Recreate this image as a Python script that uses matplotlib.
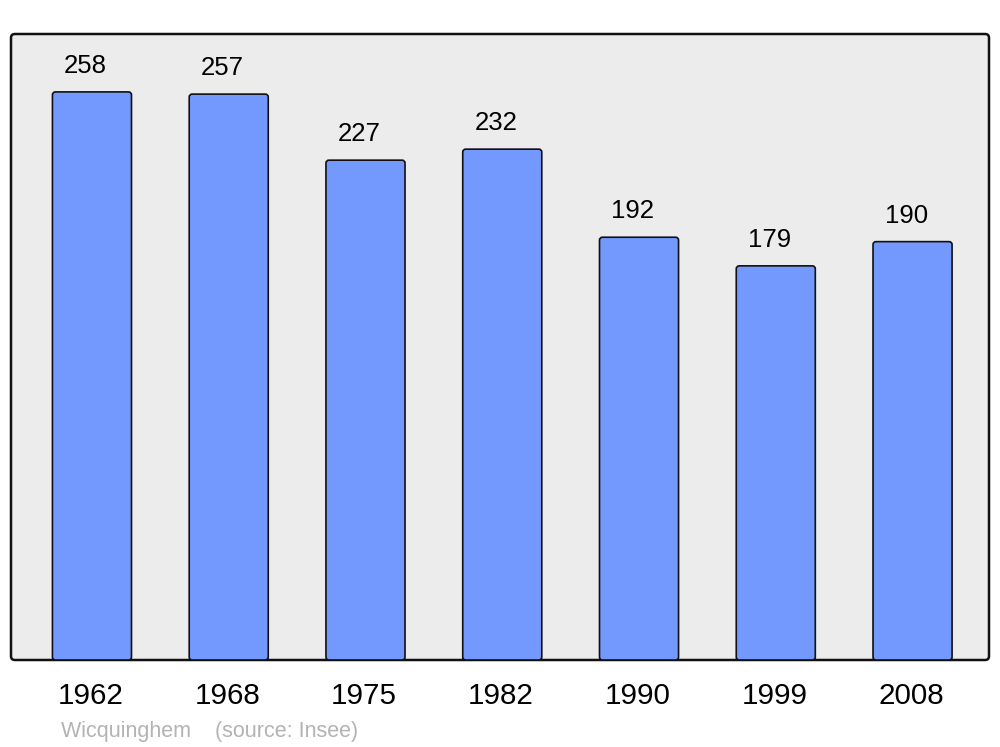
import matplotlib
matplotlib.use('Agg')
import matplotlib.pyplot as plt
from matplotlib.patches import FancyBboxPatch
import matplotlib.transforms as mtransforms

years = ['1962', '1968', '1975', '1982', '1990', '1999', '2008']
population = [258, 257, 227, 232, 192, 179, 190]
commune = 'Wicquinghem'
source = '(source: Insee)'

plt.rcParams['font.family'] = ['Liberation Sans', 'DejaVu Sans']

fig = plt.figure(figsize=(10, 7.47), dpi=100)
ax_w, ax_h = 978, 626
ax = fig.add_axes([0.011, 87 / 747, ax_w / 1000, ax_h / 747])
ax.set_facecolor('none')

# rounded background frame
frame = FancyBboxPatch((0, 0), 1, 1, boxstyle='round,pad=0,rounding_size=0.004',
                       mutation_aspect=ax_w / ax_h, transform=ax.transAxes,
                       facecolor='#ececec', edgecolor='#111111', linewidth=1.8,
                       clip_on=False, zorder=0)
ax.add_patch(frame)

xlim = (-0.592, 6.559)
ylim = (0, 284.3)
x = list(range(len(years)))
bars = ax.bar(x, population, width=0.578, color='none', edgecolor='none')

# swap the plain bars for slightly rounded ones
px_x = (xlim[1] - xlim[0]) / ax_w
px_y = (ylim[1] - ylim[0]) / ax_h
for b in bars:
    rb = FancyBboxPatch((b.get_x(), b.get_y()), b.get_width(), b.get_height(),
                        boxstyle=f'round,pad=0,rounding_size={3 * px_x}',
                        mutation_aspect=px_y / px_x, facecolor='#7399ff',
                        edgecolor='#111111', linewidth=1.2, zorder=2)
    ax.add_patch(rb)
    b.remove()

for xi, v in zip(x, population):
    ax.annotate(str(v), (xi, v), xytext=(-4.5, 18.8), textcoords='offset points',
                ha='center', va='center', fontsize=18.5, color='black')

ax.set_xlim(*xlim)
ax.set_ylim(*ylim)
ax.set_xticks(x)
ax.set_xticklabels(years, fontsize=21.3)
ax.tick_params(axis='x', length=0, pad=16)
shift = mtransforms.ScaledTranslation(-1.5 / 100, 0, fig.dpi_scale_trans)
for lbl in ax.get_xticklabels():
    lbl.set_transform(lbl.get_transform() + shift)
ax.set_yticks([])
for s in ax.spines.values():
    s.set_visible(False)

fig.text(0.061, 1 - 731 / 747, commune + '    ' + source, fontsize=15.5,
         color='#b3b3b3', va='center', ha='left')

fig.savefig('out.png', dpi=100)
